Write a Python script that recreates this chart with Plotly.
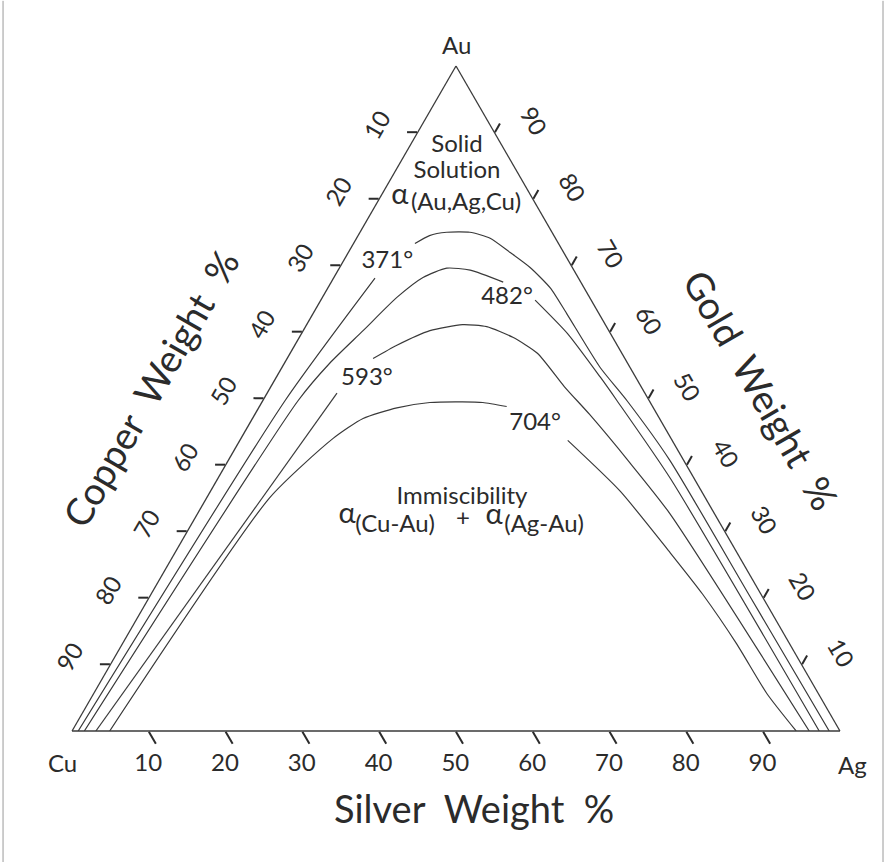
import plotly.graph_objects as go

# Solvus isotherms of the Au-Ag-Cu system, weight percent.
# Each curve is broken (None) where its temperature label sits.
iso_371_au = [0, 49.7, 68.1, None, 73.3, 74.5, 75.0, 75.0, 74.1, 72.0, 69.7, 66.6, 62.8, 54.7, 49.7, 40.7, 20.3, 0]
iso_371_cu = [99.2, 47.4, 26.5, None, 18.7, 16.2, 13.7, 10.7, 8.5, 7.0, 5.5, 4.4, 4.2, 3.9, 2.9, 1.8, 1.6, 1.4]
iso_371_ag = [0.8, 2.9, 5.4, None, 8.0, 9.3, 11.3, 14.3, 17.4, 21.0, 24.8, 29.0, 33.0, 41.4, 47.4, 57.5, 78.1, 98.6]

iso_482_au = [0, 49.7, 55.3, 60.2, 65.2, 68.2, 69.6, 69.3, 67.5, None, 64.8, 59.8, 53.2, 49.7, 38.0, 0]
iso_482_cu = [98.4, 45.7, 38.8, 32.0, 25.1, 20.2, 16.4, 13.5, 10.1, None, 7.3, 5.6, 4.6, 4.2, 3.1, 2.7]
iso_482_ag = [1.6, 4.6, 5.9, 7.8, 9.7, 11.6, 14.0, 17.2, 22.4, None, 27.9, 34.6, 42.2, 46.1, 58.9, 97.3]

iso_593_au = [0, 50.8, None, 56.0, 58.0, 60.2, 61.1, 60.8, 59.2, 56.8, 51.8, 47.6, 40.4, 32.7, 0]
iso_593_cu = [96.9, 40.1, None, 32.8, 28.7, 23.3, 18.6, 15.6, 13.0, 11.0, 10.0, 8.8, 7.2, 5.8, 4.0]
iso_593_ag = [3.1, 9.1, None, 11.2, 13.3, 16.5, 20.3, 23.6, 27.8, 32.2, 38.2, 43.6, 52.4, 61.5, 96.0]

iso_704_au = [0, 35.1, 44.0, 47.0, 48.6, 49.4, 49.5, 49.4, 48.8, None, 43.7, 36.1, 26.8, 20.6, 13.1, 5.6, 0]
iso_704_cu = [95.1, 56.7, 44.0, 38.6, 33.4, 28.7, 24.4, 21.8, 19.0, None, 13.6, 10.6, 8.7, 7.6, 6.9, 6.7, 5.7]
iso_704_ag = [4.9, 8.2, 12.0, 14.4, 18.0, 21.9, 26.1, 28.8, 32.2, None, 42.7, 53.3, 64.5, 71.8, 80.0, 87.7, 94.3]

isotherm_labels = ["371°", "482°", "593°", "704°"]

# Tick values along each edge; the printed numbers run the other way round
tick_vals = [10, 20, 30, 40, 50, 60, 70, 80, 90]
tick_text = [str(100 - v) for v in tick_vals]

FONT = "Lato"
INK = "#2b2b2b"
LINE = "#3a3a3a"
TXT = 24
ALPHA_SIZE = 29
NB = "\u00a0"
ZWNJ = "\u200c"  # keeps "ti" from fusing into a ligature
FULL = dict(x=[0, 1], y=[0, 1])

fig = go.Figure()

curves = [
    (iso_371_au, iso_371_cu, iso_371_ag),
    (iso_482_au, iso_482_cu, iso_482_ag),
    (iso_593_au, iso_593_cu, iso_593_ag),
    (iso_704_au, iso_704_cu, iso_704_ag),
]
for (au, cu, ag), name in zip(curves, isotherm_labels):
    fig.add_trace(go.Scatterternary(
        a=au, b=cu, c=ag, mode="lines", name=name,
        line=dict(color=LINE, width=1.2, shape="spline", smoothing=0.6),
        connectgaps=False, hoverinfo="skip",
    ))

# Isotherm labels, placed in the gaps of their curves (Au, Cu, Ag)
label_pos = {
    "371°": (70.5, 23.7, 5.8),
    "482°": (65.1, 10.8, 24.1),
    "593°": (53.0, 35.1, 11.9),
    "704°": (46.2, 16.6, 37.2),
}

# Phase-field captions, one piece per entry so the alpha sits above its subscript
captions = [
    ("Solid", (87.97, 5.88, 6.15)),
    ("Solut" + ZWNJ + "ion", (84.06, 7.84, 8.10)),
    ("α", (80.30, 17.15, 2.55)),
    ("(Au,Ag,Cu)", (79.25, 9.07, 11.68)),
    ("Immiscibility", (35.04, 31.70, 33.26)),
    ("α", (32.33, 48.03, 19.64)),
    ("(Cu-Au)", (30.83, 42.52, 26.65)),
    ("+", (31.73, 33.22, 35.05)),
    ("α", (32.18, 28.96, 38.86)),
    ("(Ag-Au)", (30.83, 23.12, 46.05)),
]

texts = isotherm_labels + [c[0] for c in captions]
pos = [label_pos[k] for k in isotherm_labels] + [c[1] for c in captions]
sizes = [ALPHA_SIZE if t == "α" else TXT for t in texts]
fig.add_trace(go.Scatterternary(
    a=[p[0] for p in pos], b=[p[1] for p in pos], c=[p[2] for p in pos],
    mode="text", text=texts, textposition="middle center",
    textfont=dict(family=FONT, size=sizes, color=INK), hoverinfo="skip",
))

# Empty trace so the label-only overlay subplot gets drawn
fig.add_trace(go.Scatterternary(a=[], b=[], c=[], subplot="ternary2", hoverinfo="skip"))

# Visible frame: edges and tick marks, no labels
frame_axis = dict(
    tickmode="array", tickvals=tick_vals, ticks="outside", tickwidth=2.4, tickcolor=INK,
    showticklabels=False, showgrid=False, showline=True, linecolor=LINE, linewidth=1.3,
    title=dict(text=""),
)
# Overlay carrying only the tick numbers, pushed out by invisible ticks
label_axis = dict(
    tickmode="array", tickvals=tick_vals, ticks="outside", tickwidth=1,
    tickcolor="rgba(0,0,0,0)", showgrid=False, showline=False,
    tickfont=dict(family=FONT, size=TXT, color=INK), title=dict(text=""),
)

left_text = [t + NB * 2 for t in tick_text]
bottom_text = [t + NB * 2 for t in tick_text]
right_text = [NB * 8 + t for t in tick_text]

# Thin page border on the left and right sides
border = dict(type="line", xref="paper", yref="paper", line=dict(color="#9a9a9a", width=1))

fig.update_layout(
    width=886, height=865,
    margin=dict(l=72, r=46, t=66, b=134),
    paper_bgcolor="white", plot_bgcolor="white",
    showlegend=False,
    font=dict(family=FONT, color=INK),
    ternary=dict(
        sum=100, bgcolor="white", domain=FULL,
        aaxis=dict(frame_axis, ticklen=10),
        baxis=dict(frame_axis, ticklen=14),
        caxis=dict(frame_axis, ticklen=10),
    ),
    ternary2=dict(
        sum=100, bgcolor="rgba(0,0,0,0)", domain=FULL,
        aaxis=dict(label_axis, ticktext=left_text, ticklen=22, tickangle=-60),
        baxis=dict(label_axis, ticktext=bottom_text, ticklen=11, tickangle=0),
        caxis=dict(label_axis, ticktext=right_text, ticklen=23, tickangle=60),
    ),
    shapes=[
        dict(border, x0=-0.0898, x1=-0.0898, y0=-0.197, y1=1.098),
        dict(border, x0=1.0560, x1=1.0560, y0=-0.197, y1=1.098),
    ],
    annotations=[
        dict(text="Au", xref="paper", yref="paper", x=0.5, y=1.032, xanchor="center", yanchor="middle",
             showarrow=False, font=dict(family=FONT, size=TXT, color=INK)),
        dict(text="Cu", xref="paper", yref="paper", x=-0.013, y=-0.048, xanchor="center", yanchor="middle",
             showarrow=False, font=dict(family=FONT, size=TXT, color=INK)),
        dict(text="Ag", xref="paper", yref="paper", x=1.016, y=-0.051, xanchor="center", yanchor="middle",
             showarrow=False, font=dict(family=FONT, size=TXT, color=INK)),
        dict(text="Copper" + NB + " Weight" + NB + " %", xref="paper", yref="paper", x=0.1016, y=0.516,
             xanchor="center", yanchor="middle", showarrow=False, textangle=-60,
             font=dict(family=FONT, size=38, color=INK)),
        dict(text="Gold" + NB + " Weight" + NB + " %", xref="paper", yref="paper", x=0.898, y=0.513,
             xanchor="center", yanchor="middle", showarrow=False, textangle=60,
             font=dict(family=FONT, size=38, color=INK)),
        dict(text="Silver" + NB + " Weight" + NB + " %", xref="paper", yref="paper", x=0.5234, y=-0.116,
             xanchor="center", yanchor="middle", showarrow=False,
             font=dict(family=FONT, size=38, color=INK)),
    ],
)

fig.write_html("out.html")
